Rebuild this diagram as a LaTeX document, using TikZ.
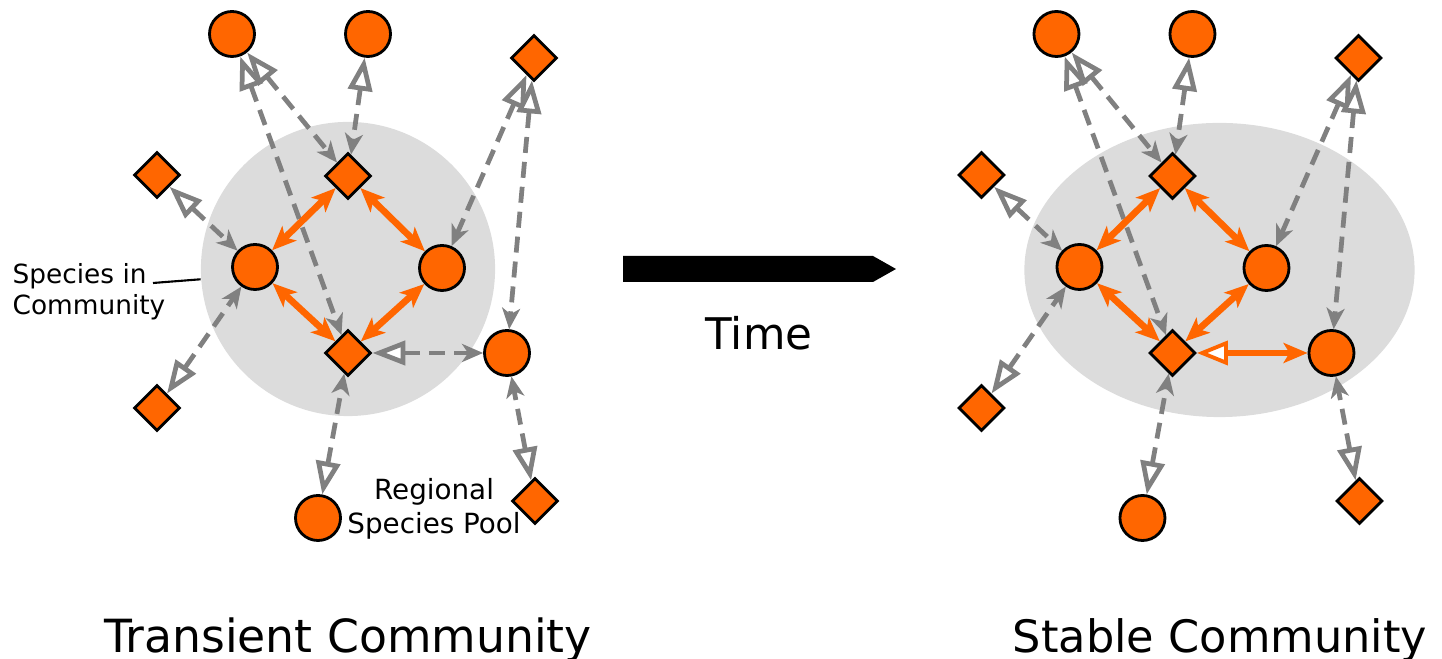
\documentclass[tikz,border=0pt]{standalone}
\usepackage{fontspec}
\setmainfont{DejaVu Sans}
\usepackage{xcolor}
\usetikzlibrary{arrows.meta,shapes.geometric}

\definecolor{spOrange}{RGB}{255,102,0}
\definecolor{linkGray}{RGB}{128,128,128}
\definecolor{commGray}{RGB}{220,220,220}

% species of the regional pool and of the community, with the links to the pool
\newcommand{\poolnet}{%
  \node[sp] (pTL) at (232,34) {};
  \node[sp] (pTM) at (368,34) {};
  \node[sq] (pTR) at (534,58) {};
  \node[sq] (pL) at (157,175) {};
  \node[sq] (pLL) at (157,408) {};
  \node[sp] (pB) at (318,518) {};
  \node[sq] (pBR) at (535,501) {};
  \node[sq] (cTop) at (348,176) {};
  \node[sp] (cLeft) at (255,267) {};
  \node[sp] (cRight) at (442,268) {};
  \node[sq] (cBot) at (348,353) {};
  \node[sp] (newc) at (507,353) {};
  %
  \draw[link] (pTL) -- (cTop);
  \draw[link] (pTL) -- (cBot);
  \draw[link] (pTM) -- (cTop);
  \draw[link] (pTR) -- (cRight);
  \draw[link] (pTR) -- (newc);
  \draw[link] (pL) -- (cLeft);
  \draw[link] (pLL) -- (cLeft);
  \draw[link] (pB) -- (cBot);
  \draw[link] (pBR) -- (newc);
  %
  \draw[tie] (cTop) -- (cLeft);
  \draw[tie] (cTop) -- (cRight);
  \draw[tie] (cLeft) -- (cBot);
  \draw[tie] (cRight) -- (cBot);
}

\begin{document}
\begin{tikzpicture}[
    x=0.01cm, y=-0.01cm,
    sp/.style={circle, draw=black, line width=0.8pt, fill=spOrange, minimum size=0.45cm, inner sep=0pt},
    sq/.style={diamond, draw=black, line width=0.8pt, fill=spOrange, minimum width=0.46cm, minimum height=0.46cm, inner sep=0pt},
    link/.style={draw=linkGray, line width=1.35pt, dash pattern=on 0.16cm off 0.09cm,
        {Triangle[fill=white, length=0.33cm, width=0.24cm]}-{Stealth[length=0.21cm, width=0.18cm, inset=0.06cm]}},
    tie/.style={draw=spOrange, line width=1.9pt,
        {Stealth[length=0.24cm, width=0.2cm, inset=0.06cm]}-{Stealth[length=0.24cm, width=0.2cm, inset=0.06cm]}},
    tieopen/.style={draw=spOrange, line width=1.9pt,
        {Triangle[fill=white, length=0.31cm, width=0.24cm, line width=1.1pt]}-{Stealth[length=0.24cm, width=0.2cm, inset=0.06cm]}},
    title/.style={font=\fontsize{13}{15}\selectfont, anchor=base, inner sep=0pt},
    small/.style={font=\fontsize{7.5}{8.7}\selectfont, inner sep=0pt}
]
\useasboundingbox (0,0) rectangle (1442,659);

% transient community
\node[circle, fill=commGray, minimum size=2.94cm] (comm) at (348,269) {};
\poolnet
\draw[link] (cBot) -- (newc);

\node[small, align=left] (spc) at (89,292) {Species in\\Community};
\coordinate (spcend) at (153,283);
\draw[line width=0.6pt] (spcend) -- (comm.184);
\node[small, align=center, font=\fontsize{7.9}{9.6}\selectfont] (rsp) at (434,509) {Regional\\Species Pool};

% time
\fill (623,256) -- (873,256) -- (896,269) -- (873,282) -- (623,282) -- cycle;
\node[title, font=\fontsize{12.4}{15}\selectfont] (time) at (759,350) {Time};

% stable community
\begin{scope}[xshift=8.24cm, name prefix=r-]
\node[ellipse, fill=commGray, minimum width=3.9cm, minimum height=2.94cm] (comm) at (395,270) {};
\poolnet
\draw[tieopen] (cBot) -- (newc);
\end{scope}

\node[title] (trans) at (348,653) {Transient Community};
\node[title, font=\fontsize{12.7}{15}\selectfont] (stab) at (1220,653) {Stable Community};
\end{tikzpicture}
\end{document}
